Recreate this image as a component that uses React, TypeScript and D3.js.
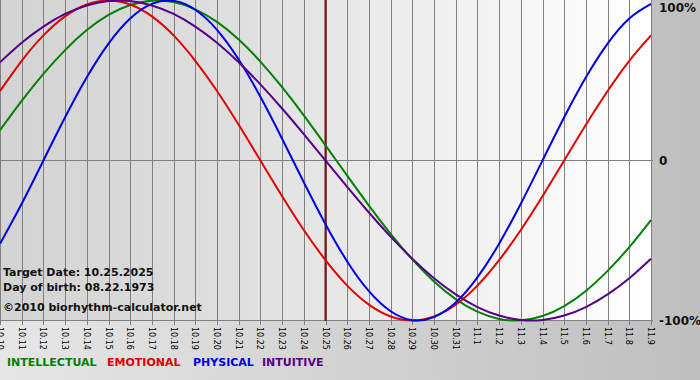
import React from "react";
import * as d3 from "d3";

const dates = [
  "10.10", "10.11", "10.12", "10.13", "10.14", "10.15", "10.16", "10.17", "10.18", "10.19",
  "10.20", "10.21", "10.22", "10.23", "10.24", "10.25", "10.26", "10.27", "10.28", "10.29",
  "10.30", "10.31", "11.1", "11.2", "11.3", "11.4", "11.5", "11.6", "11.7", "11.8", "11.9",
];

const intellectual = [
  0.189, 0.372, 0.541, 0.690, 0.815, 0.910, 0.972, 0.999, 0.990, 0.945,
  0.866, 0.756, 0.618, 0.458, 0.282, 0.095, -0.095, -0.282, -0.458, -0.618,
  -0.756, -0.866, -0.945, -0.990, -0.999, -0.972, -0.910, -0.815, -0.690, -0.541, -0.372,
];
const emotional = [
  0.434, 0.623, 0.782, 0.901, 0.975, 1.0, 0.975, 0.901, 0.782, 0.623,
  0.434, 0.223, 0.0, -0.223, -0.434, -0.623, -0.782, -0.901, -0.975, -1.0,
  -0.975, -0.901, -0.782, -0.623, -0.434, -0.223, 0.0, 0.223, 0.434, 0.623, 0.782,
];
const physical = [
  -0.520, -0.270, 0.0, 0.270, 0.520, 0.731, 0.888, 0.979, 0.998, 0.942,
  0.817, 0.631, 0.398, 0.136, -0.136, -0.398, -0.631, -0.817, -0.942, -0.998,
  -0.979, -0.888, -0.731, -0.520, -0.270, 0.0, 0.270, 0.520, 0.731, 0.888, 0.979,
];
const intuitive = [
  0.614, 0.736, 0.837, 0.916, 0.969, 0.997, 0.997, 0.969, 0.916, 0.837,
  0.736, 0.614, 0.476, 0.325, 0.165, 0.0, -0.165, -0.325, -0.476, -0.614,
  -0.736, -0.837, -0.916, -0.969, -0.997, -0.997, -0.969, -0.916, -0.837, -0.736, -0.614,
];

const yTickValues = [1, 0, -1];
const yTickLabels = ["100%", "0", "-100%"];
const targetDate = "10.25";
const infoLines = ["Target Date: 10.25.2025", "Day of birth: 08.22.1973", "\u00a92010 biorhythm-calculator.net"];
const seriesNames = ["INTELLECTUAL", "EMOTIONAL", "PHYSICAL", "INTUITIVE"];

const FONT = "'DejaVu Sans', Verdana, sans-serif";

export default function App() {
  const W = 700;
  const H = 380;
  const plotLeft = 0;
  const plotRight = 651;
  const x = d3.scalePoint<string>().domain(dates).range([plotLeft, plotRight]);
  const y = d3.scaleLinear().domain([-1, 1]).range([320.5, 0.5]);

  const colors = ["#008000", "#e00000", "#0000e0", "#550088"];
  const seriesData = [intellectual, emotional, physical, intuitive];
  const legendX = [7, 107, 193, 262];

  const line = d3
    .line<number>()
    .x((_, i) => x(dates[i]) as number)
    .y((d) => y(d))
    .curve(d3.curveNatural);

  const px = (d: string) => Math.round(x(d) as number) + 0.5;

  return (
    <svg
      width={W}
      height={H}
      style={{ position: "absolute", left: 0, top: 0, display: "block" }}
      fontFamily={FONT}
    >
      <defs>
        <linearGradient id="bgGrad" x1="0" x2="1" y1="0" y2="0">
          <stop offset="0" stopColor="#e6e6e6" />
          <stop offset="1" stopColor="#bfbfbf" />
        </linearGradient>
        <linearGradient id="plotGrad" x1="0" x2="1" y1="0" y2="0">
          <stop offset="0" stopColor="#d3d3d3" />
          <stop offset="0.35" stopColor="#dedede" />
          <stop offset="0.6" stopColor="#ececec" />
          <stop offset="1" stopColor="#ffffff" />
        </linearGradient>
        <clipPath id="plotClip">
          <rect x={plotLeft} y={0} width={plotRight - plotLeft + 1} height={322} />
        </clipPath>
      </defs>
      <rect x={0} y={0} width={W} height={H} fill="url(#bgGrad)" />
      <rect x={plotLeft} y={0} width={plotRight - plotLeft} height={321} fill="url(#plotGrad)" />

      {/* vertical grid + ticks */}
      {dates.map((d) => (
        <line key={d} x1={px(d)} x2={px(d)} y1={0} y2={325} stroke="#808080" strokeWidth={1} />
      ))}

      {/* horizontal lines (0 and -100%) */}
      {yTickValues
        .filter((v) => v < 1)
        .map((v) => (
          <line
            key={v}
            x1={0}
            x2={plotRight + 2}
            y1={Math.floor(y(v)) + 0.5}
            y2={Math.floor(y(v)) + 0.5}
            stroke="#808080"
            strokeWidth={1}
          />
        ))}

      {/* target line */}
      <line
        x1={x(targetDate) as number}
        x2={x(targetDate) as number}
        y1={0}
        y2={321}
        stroke="#7a1414"
        strokeWidth={2}
      />

      {/* series */}
      <g clipPath="url(#plotClip)">
        {seriesData.map((vals, i) => (
          <path key={seriesNames[i]} d={line(vals) || ""} fill="none" stroke={colors[i]} strokeWidth={2} />
        ))}
      </g>

      {/* y labels */}
      {yTickValues.map((v, i) => (
        <text key={v} x={659} y={Math.max(y(v), 7) + 4.5} fontSize={12} fontWeight="bold" fill="#111">
          {yTickLabels[i]}
        </text>
      ))}

      {/* x labels rotated */}
      {dates.map((d) => (
        <text key={d} transform={`translate(${(x(d) as number) - 3},327) rotate(90)`} fontSize={8} fill="#000">
          {d}
        </text>
      ))}

      {/* info text */}
      {infoLines.map((t, i) => (
        <text key={t} x={3} y={[276, 291, 311][i]} fontSize={11} fontWeight="bold" fill="#111">
          {t}
        </text>
      ))}

      {/* legend */}
      {seriesNames.map((n, i) => (
        <text key={n} x={legendX[i]} y={366} fontSize={11} fontWeight="bold" fill={colors[i]}>
          {n}
        </text>
      ))}
    </svg>
  );
}
